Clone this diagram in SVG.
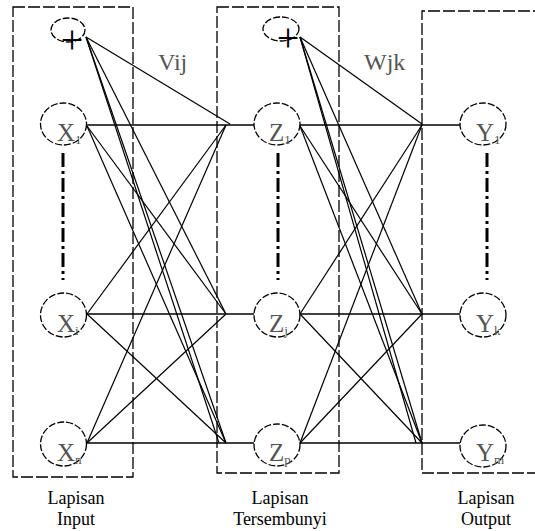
<svg xmlns="http://www.w3.org/2000/svg" width="535" height="531" viewBox="0 0 535 531">
<style>
.box{fill:none;stroke:#000;stroke-width:1.3;stroke-dasharray:12,3}
.node{fill:none;stroke:#000;stroke-width:1.3;stroke-dasharray:7,2}
.dots{stroke:#000;stroke-width:3;stroke-dasharray:14,4,3,4}
.c line{stroke:#000;stroke-width:1.2}
.c .h{stroke-width:1.6}
</style>
<rect width="535" height="531" fill="#fff"/>
<g id="layer-boxes">
<rect class="box" x="13" y="7" width="120" height="470"/>
<rect class="box" x="217" y="7" width="122" height="466"/>
<path class="box" d="M545 11 H422 V473 H545"/>
</g>
<g id="connectors" class="c">
<line class="h" x1="87" y1="125" x2="254" y2="125"/>
<line class="h" x1="87" y1="314" x2="254" y2="314"/>
<line class="h" x1="87" y1="443" x2="254" y2="443"/>
<line class="h" x1="300" y1="125" x2="460" y2="125"/>
<line class="h" x1="300" y1="314" x2="460" y2="314"/>
<line class="h" x1="300" y1="443" x2="460" y2="443"/>
<line x1="86" y1="37" x2="230" y2="124"/>
<line x1="86" y1="37" x2="226" y2="314"/>
<line x1="86" y1="37" x2="226" y2="443"/>
<line x1="86" y1="37" x2="219" y2="443"/>
<line x1="87" y1="126" x2="226" y2="314"/>
<line x1="87" y1="126" x2="226" y2="443"/>
<line x1="87" y1="314" x2="226" y2="125"/>
<line x1="87" y1="314" x2="226" y2="443"/>
<line x1="87" y1="443" x2="226" y2="125"/>
<line x1="87" y1="443" x2="226" y2="314"/>
<line x1="300" y1="37" x2="422" y2="124"/>
<line x1="300" y1="37" x2="422" y2="314"/>
<line x1="300" y1="37" x2="422" y2="443"/>
<line x1="300" y1="37" x2="416" y2="443"/>
<line x1="300" y1="126" x2="422" y2="314"/>
<line x1="300" y1="126" x2="422" y2="443"/>
<line x1="300" y1="314" x2="422" y2="125"/>
<line x1="300" y1="314" x2="422" y2="443"/>
<line x1="300" y1="443" x2="422" y2="125"/>
<line x1="300" y1="443" x2="422" y2="314"/>
</g>
<g id="ellipsis-marks">
<line class="dots" x1="63" y1="153" x2="63" y2="280"/>
<line class="dots" x1="278" y1="153" x2="278" y2="280"/>
<line class="dots" x1="487" y1="153" x2="487" y2="280"/>
</g>
<g font-family="Times New Roman, Liberation Serif, DejaVu Serif, Noto Serif, serif">
<g id="bias-input">
<ellipse class="node" cx="68" cy="30" rx="17" ry="12"/>
<text x="72" y="53" font-size="40" fill="#000" text-anchor="middle">+</text>
</g>
<g font-size="25" fill="#555">
<g id="x1"><ellipse class="node" cx="63.5" cy="124" rx="23" ry="21"/><text x="57" y="141">X<tspan font-size="13" dy="3">1</tspan></text></g>
<g id="xi"><ellipse class="node" cx="63.5" cy="315" rx="23" ry="22"/><text x="57" y="332">X<tspan font-size="13" dy="3">i</tspan></text></g>
<g id="xn"><ellipse class="node" cx="63.5" cy="444" rx="23" ry="22"/><text x="57" y="461">X<tspan font-size="13" dy="3">n</tspan></text></g>
</g>
<g id="bias-hidden">
<ellipse class="node" cx="281" cy="29" rx="18" ry="12"/>
<text x="288" y="51" font-size="40" fill="#000" text-anchor="middle">+</text>
</g>
<g font-size="25" fill="#555">
<g id="z1"><ellipse class="node" cx="277" cy="124" rx="23" ry="21"/><text x="269" y="141">Z<tspan font-size="13" dy="3">1</tspan></text></g>
<g id="zj"><ellipse class="node" cx="277" cy="315" rx="23" ry="22"/><text x="269" y="332">Z<tspan font-size="13" dy="3">j</tspan></text></g>
<g id="zp"><ellipse class="node" cx="277" cy="445" rx="23" ry="21"/><text x="269" y="461">Z<tspan font-size="13" dy="3">p</tspan></text></g>
<g id="y1"><ellipse class="node" cx="483" cy="124" rx="23" ry="21"/><text x="476" y="141">Y<tspan font-size="13" dy="3">1</tspan></text></g>
<g id="yk"><ellipse class="node" cx="483" cy="315" rx="23" ry="22"/><text x="476" y="332">Y<tspan font-size="13" dy="3">k</tspan></text></g>
<g id="ym"><ellipse class="node" cx="483" cy="446" rx="23" ry="21"/><text x="476" y="461">Y<tspan font-size="13" dy="3">m</tspan></text></g>
</g>
<g id="weight-labels" font-size="24" fill="#555">
<text x="158" y="70">Vij</text>
<text x="364" y="70">Wjk</text>
</g>
<g id="captions" font-size="18" fill="#000" text-anchor="middle">
<text x="76" y="504">Lapisan</text>
<text x="76" y="525">Input</text>
<text x="280" y="504">Lapisan</text>
<text x="280" y="525">Tersembunyi</text>
<text x="486" y="504">Lapisan</text>
<text x="486" y="525">Output</text>
</g>
</g>
</svg>
